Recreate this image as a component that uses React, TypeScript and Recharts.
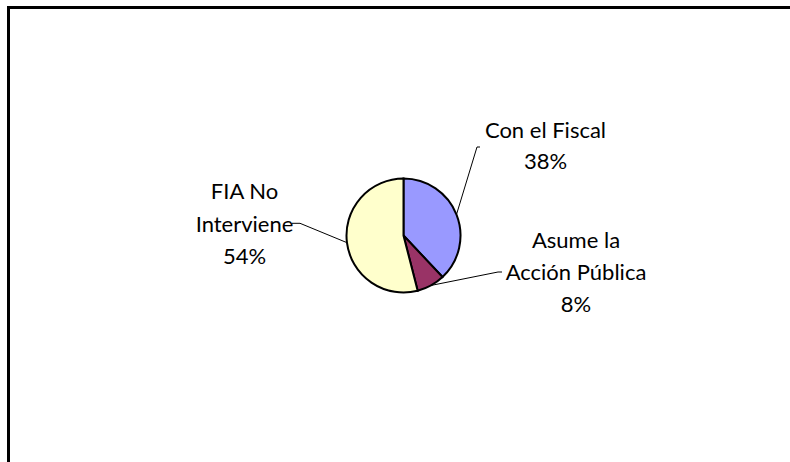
import React from "react";
import { PieChart, Pie, Cell } from "recharts";

const categories = ["Con el Fiscal", "Asume la Acción Pública", "FIA No Interviene"];
const values = [38, 8, 54];
const labelLines = [["Con el Fiscal"], ["Asume la", "Acción Pública"], ["FIA No", "Interviene"]];
const colors = ["#9999FF", "#993366", "#FFFFCC"];

const data = categories.map((name, i) => ({ name, value: values[i] }));
const total = values.reduce((a, b) => a + b, 0);

// label layout (offsets relative to pie centre)
const LABEL_LAYOUT = [
  { tx: 142, baselines: [-97.5, -66.5], elbow: [73.5, -88.5], tail: [76.5, -88.5] },
  { tx: 172.5, baselines: [12.5, 44.5, 76], elbow: [94.5, 36.5], tail: [98.5, 36.5] },
  { tx: -159, baselines: [-36.2, -3.8, 28], elbow: [-103.5, -12.2], tail: [-111.5, -12.2] },
];

const FONT = "Lato, 'Open Sans', sans-serif";

const renderLabel = (props: any) => {
  const { cx, cy, midAngle, outerRadius, index } = props;
  const RAD = Math.PI / 180;
  const sx = cx + outerRadius * Math.cos(-midAngle * RAD);
  const sy = cy + outerRadius * Math.sin(-midAngle * RAD);
  const L = LABEL_LAYOUT[index];
  const pct = Math.round((values[index] / total) * 100) + "%";
  const lines = [...labelLines[index], pct];
  return (
    <g key={"lbl" + index}>
      <polyline
        points={`${sx},${sy} ${cx + L.elbow[0]},${cy + L.elbow[1]} ${cx + L.tail[0]},${cy + L.tail[1]}`}
        fill="none"
        stroke="#000"
        strokeWidth={1}
      />
      {lines.map((t, i) => (
        <text
          key={i}
          x={cx + L.tx}
          y={cy + L.baselines[i]}
          textAnchor="middle"
          fill="#000"
          fontSize={22}
          fontFamily={FONT}
        >
          {t}
        </text>
      ))}
    </g>
  );
};

export default function App() {
  return (
    <div style={{ position: "relative", width: 790, height: 462, overflow: "hidden", background: "#fff" }}>
      <style>{"body{margin:0;overflow:hidden}"}</style>
      <div
        style={{
          position: "absolute",
          left: 7,
          top: 6,
          width: 900,
          height: 600,
          border: "3px solid #000",
        }}
      />
      <div style={{ position: "absolute", left: 0, top: 0 }}>
        <PieChart width={790} height={462} margin={{ top: 0, right: 0, bottom: 0, left: 0 }}>
          <Pie
            data={data}
            dataKey="value"
            nameKey="name"
            cx={403.5}
            cy={235.5}
            outerRadius={57}
            startAngle={90}
            endAngle={-270}
            stroke="#000"
            strokeWidth={2}
            isAnimationActive={false}
            label={renderLabel}
            labelLine={false}
          >
            {data.map((d, i) => (
              <Cell key={d.name} fill={colors[i]} />
            ))}
          </Pie>
        </PieChart>
      </div>
    </div>
  );
}
